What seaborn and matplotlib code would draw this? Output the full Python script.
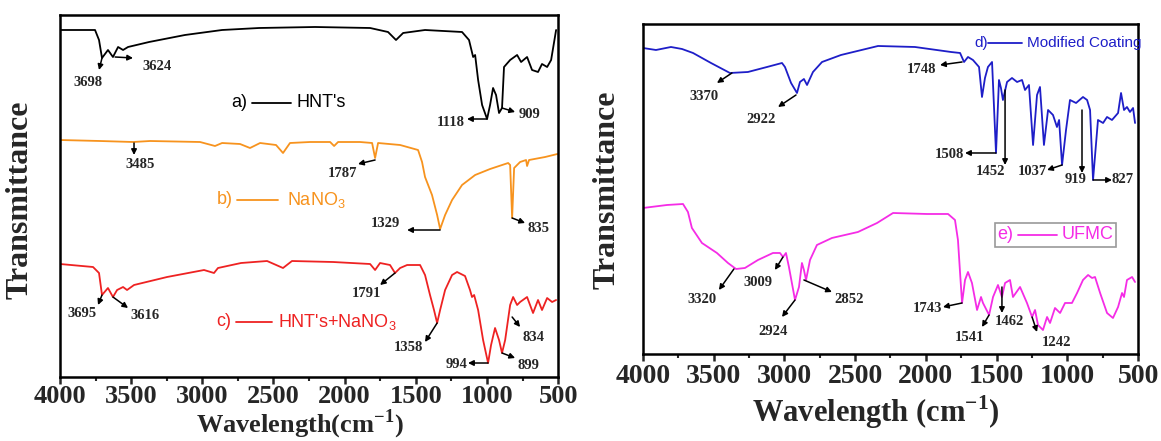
import matplotlib
matplotlib.use('Agg')
import matplotlib.pyplot as plt
import seaborn as sns
from matplotlib.patches import Rectangle
from matplotlib.ticker import MultipleLocator

sns.set_style('ticks')
plt.rcParams['font.family'] = ['Liberation Serif', 'DejaVu Serif']
plt.rcParams['mathtext.fontset'] = 'custom'
plt.rcParams['mathtext.rm'] = 'Liberation Serif'
plt.rcParams['mathtext.bf'] = 'Liberation Serif:bold'
plt.rcParams['mathtext.sf'] = 'Liberation Sans'

# ---- spectra (wavenumber cm-1, transmittance a.u.) ----
hnt_wn = [4000, 3754, 3726, 3705, 3663, 3628, 3592, 3557, 3522, 3374, 3122, 2861, 2601, 2208,
          1821, 1695, 1639, 1589, 1435, 1175, 1126, 1097, 1083, 1062, 1034, 999, 978, 957,
          936, 915, 894, 880, 837, 788, 760, 718, 683, 641, 613, 577, 549, 514]
hnt_t = [347, 347, 337, 319, 327, 320, 330, 327, 330, 335, 342, 347, 349, 350,
         349, 345, 337, 344, 347, 345, 337, 320, 322, 297, 272, 258, 272, 289,
         282, 264, 269, 310, 317, 322, 315, 320, 307, 305, 313, 310, 317, 347]

nano3_wn = [4000, 3719, 3487, 3367, 3016, 2911, 2861, 2735, 2665, 2594, 2482, 2433, 2384, 2243,
            2102, 2074, 2046, 1892, 1807, 1786, 1765, 1610, 1484, 1456, 1435, 1386, 1350, 1329,
            1294, 1245, 1175, 1083, 978, 851, 837, 823, 809, 767, 725, 718, 704, 591, 505]
nano3_t = [237, 236, 235, 236, 235, 231, 234, 233, 229, 234, 232, 224, 234, 235,
           235, 231, 235, 235, 234, 219, 234, 232, 227, 215, 200, 182, 162, 148,
           162, 177, 192, 202, 208, 214, 212, 159, 209, 215, 217, 211, 217, 220, 223]

mix_wn = [4000, 3768, 3726, 3705, 3663, 3628, 3599, 3557, 3529, 3480, 3248, 2988, 2918, 2890,
          2728, 2545, 2433, 2370, 2081, 1821, 1786, 1751, 1681, 1646, 1610, 1561, 1470, 1435,
          1400, 1372, 1350, 1329, 1294, 1245, 1210, 1154, 1119, 1105, 1090, 1062, 1027, 992,
          971, 943, 915, 894, 872, 837, 816, 788, 767, 718, 676, 641, 613, 577, 542, 514]
mix_t = [113, 110, 104, 82, 89, 80, 87, 90, 87, 92, 100, 107, 104, 109,
         114, 116, 109, 116, 115, 113, 107, 114, 112, 104, 109, 112, 112, 102,
         82, 67, 54, 67, 87, 102, 105, 101, 87, 80, 82, 67, 37, 14,
         32, 49, 37, 24, 37, 72, 80, 72, 75, 80, 64, 77, 67, 79, 75, 77]

coat_wn = [4000, 3908, 3802, 3724, 3646, 3519, 3385, 3258, 3123, 3017, 2996, 2953, 2932, 2911,
           2890, 2862, 2840, 2798, 2734, 2600, 2338, 2077, 1822, 1758, 1730, 1702, 1667, 1624,
           1603, 1582, 1561, 1532, 1504, 1483, 1469, 1455, 1426, 1391, 1355, 1320, 1299, 1271,
           1242, 1214, 1193, 1165, 1136, 1101, 1073, 1058, 1037, 1009, 981, 938, 889, 860,
           839, 818, 783, 747, 719, 684, 641, 620, 599, 578, 557, 535, 521]
coat_t = [306, 304, 307, 305, 301, 291, 281, 282, 287, 291, 287, 271, 266, 261,
          272, 275, 269, 282, 292, 299, 308, 307, 302, 301, 292, 297, 294, 287,
          257, 276, 287, 292, 201, 274, 266, 254, 272, 276, 272, 274, 264, 269,
          209, 259, 267, 209, 244, 239, 227, 234, 189, 224, 254, 251, 257, 254,
          244, 174, 234, 231, 237, 234, 241, 261, 244, 247, 242, 246, 231]

ufmc_wn = [4000, 3830, 3717, 3682, 3654, 3583, 3477, 3399, 3342, 3279, 3187, 3081, 3031, 3010,
           2989, 2968, 2925, 2897, 2876, 2862, 2847, 2819, 2770, 2664, 2480, 2345, 2232, 1992,
           1843, 1794, 1773, 1758, 1744, 1723, 1702, 1674, 1638, 1610, 1596, 1553, 1525, 1490,
           1462, 1440, 1405, 1384, 1334, 1285, 1249, 1228, 1207, 1172, 1143, 1122, 1087, 1051,
           1016, 967, 931, 889, 853, 825, 804, 768, 719, 677, 641, 613, 599, 578, 542, 521]
ufmc_t = [146, 149, 150, 142, 126, 111, 101, 91, 85, 86, 94, 101, 101, 97,
          101, 87, 54, 67, 91, 84, 74, 94, 109, 116, 122, 131, 141, 140,
          140, 134, 114, 81, 51, 74, 82, 71, 44, 57, 51, 39, 57, 69,
          57, 71, 74, 57, 67, 51, 37, 44, 29, 24, 37, 31, 46, 41,
          51, 51, 61, 74, 79, 76, 77, 61, 41, 36, 47, 61, 57, 74, 77, 72]

# peak labels: (text, arrow tail wn, tail t, arrow head wn, head t, label wn, label t)
peaks_left = [
    ('3698', 3705, 319, 3726, 307, 3803, 294),
    ('3624', 3613, 320, 3487, 319, 3318, 310),
    ('1118', 999, 258, 1140, 258, 1252, 254),
    ('909', 894, 269, 802, 265, 704, 262),
    ('3485', 3480, 234, 3480, 222, 3438, 213),
    ('1787', 1786, 217, 1906, 213, 2018, 204),
    ('1329', 1329, 147, 1561, 147, 1716, 154),
    ('835', 823, 159, 732, 154, 641, 149),
    ('3695', 3705, 82, 3733, 72, 3845, 64),
    ('3616', 3628, 80, 3522, 69, 3403, 62),
    ('1791', 1646, 104, 1751, 92, 1849, 84),
    ('1358', 1350, 54, 1435, 35, 1554, 30),
    ('994', 992, 14, 1133, 14, 1210, 13),
    ('899', 894, 24, 802, 19, 711, 12),
    ('834', 823, 60, 767, 50, 676, 40),
]
peaks_right = [
    ('3370', 3371, 281, 3477, 271, 3569, 257),
    ('2922', 2918, 259, 3045, 247, 3166, 234),
    ('1748', 1744, 292, 1900, 289, 2034, 284),
    ('1508', 1504, 201, 1723, 201, 1836, 199),
    ('1452', 1440, 264, 1440, 189, 1546, 182),
    ('1037', 1037, 189, 1143, 184, 1249, 182),
    ('919', 896, 244, 896, 181, 938, 174),
    ('827', 818, 174, 684, 174, 606, 174),
    ('3320', 3357, 85, 3463, 64, 3583, 54),
    ('3009', 3010, 97, 3067, 84, 3187, 71),
    ('2924', 2925, 54, 3017, 37, 3081, 22),
    ('2852', 2862, 74, 2664, 62, 2543, 54),
    ('1743', 1744, 51, 1879, 47, 1992, 45),
    ('1541', 1553, 39, 1603, 27, 1688, 16),
    ('1462', 1462, 67, 1462, 41, 1412, 32),
    ('1242', 1249, 37, 1214, 22, 1073, 11),
]

c_orange = '#F7931E'
c_red = '#EE2222'
c_blue = '#1E1EC8'
c_mag = '#F52CE6'
sans = ['Liberation Sans', 'DejaVu Sans']

fig = plt.figure(figsize=(11.61, 4.41), dpi=100)
ax1 = fig.add_axes([0.0517, 0.1451, 0.4290, 0.8209])
ax2 = fig.add_axes([0.5538, 0.1973, 0.4264, 0.7483])

sns.lineplot(x=hnt_wn, y=hnt_t, ax=ax1, color='black', lw=1.3, estimator=None)
sns.lineplot(x=nano3_wn, y=nano3_t, ax=ax1, color=c_orange, lw=1.3, estimator=None)
sns.lineplot(x=mix_wn, y=mix_t, ax=ax1, color=c_red, lw=1.3, estimator=None)
sns.lineplot(x=coat_wn, y=coat_t, ax=ax2, color=c_blue, lw=1.3, estimator=None)
sns.lineplot(x=ufmc_wn, y=ufmc_t, ax=ax2, color=c_mag, lw=1.3, estimator=None)

for ax, ytop, peaks, pad, tsize in [(ax1, 362, peaks_left, 0.5, 19),
                                    (ax2, 330, peaks_right, 2, 20)]:
    ax.set_xlim(4000, 500)
    ax.set_ylim(0, ytop)
    ax.set_yticks([])
    ax.xaxis.set_major_locator(MultipleLocator(500))
    ax.xaxis.set_minor_locator(MultipleLocator(250))
    ax.tick_params(axis='x', which='major', direction='out', length=5, width=1.8,
                   labelsize=tsize, pad=pad)
    ax.tick_params(axis='x', which='minor', direction='out', length=3, width=1.5)
    for lab in ax.get_xticklabels():
        lab.set_fontweight('bold')
    for sp in ax.spines.values():
        sp.set_linewidth(1.8)
        sp.set_color('black')
    ax.set_xlabel('')
    ax.set_ylabel('')
    for txt, tw, tt, hw, ht, lw_, lt in peaks:
        ax.annotate('', xy=(hw, ht), xytext=(tw, tt),
                    arrowprops=dict(arrowstyle='-|>', color='black', lw=1.1,
                                    mutation_scale=8, shrinkA=0, shrinkB=0))
        ax.text(lw_, lt, txt, fontsize=10.5, fontweight='bold', ha='center', va='center')


def tag(ax, letter, label, color, x_tag, x_l0, x_l1, x_lab, y, size):
    ax.text(x_tag, y, letter, color=color, family=sans, fontsize=size,
            va='center', ha='left', transform=ax.transAxes)
    ax.plot([x_l0, x_l1], [y, y], color=color, lw=1.3, transform=ax.transAxes)
    ax.text(x_lab, y, label, color=color, family=sans, fontsize=size,
            va='center', ha='left', transform=ax.transAxes)


tag(ax1, 'a)', "HNT's", 'black', 0.343, 0.386, 0.464, 0.474, 0.757, 13)
tag(ax1, 'b)', r'NaNO$_\mathsf{3}$', c_orange, 0.315, 0.355, 0.438, 0.456, 0.489, 13)
tag(ax1, 'c)', r"HNT's+NaNO$_\mathsf{3}$", c_red, 0.313, 0.353, 0.426, 0.438, 0.152, 13)
tag(ax2, 'd)', 'Modified Coating', c_blue, 0.669, 0.697, 0.766, 0.776, 0.942, 11)
ax2.add_patch(Rectangle((0.711, 0.324), 0.245, 0.073, transform=ax2.transAxes,
                        fill=False, edgecolor='#9a9a9a', lw=1.2))
tag(ax2, 'e)', 'UFMC', c_mag, 0.716, 0.758, 0.836, 0.846, 0.361, 13)

fig.text(0.0172, 0.5465, 'Transmittance', rotation=90, fontsize=23, fontweight='bold',
         ha='center', va='center')
fig.text(0.5228, 0.569, 'Transmittance', rotation=90, fontsize=23, fontweight='bold',
         ha='center', va='center')
fig.text(0.2584, 0.001, r'Wavelength(cm$^{\mathbf{-1}}$)', fontsize=19, fontweight='bold',
         ha='center', va='bottom')
fig.text(0.7545, 0.066, r'Wavelength (cm$^{\mathbf{-1}}$)', fontsize=22, fontweight='bold',
         ha='center', va='center')

fig.savefig('out.png', dpi=100)
